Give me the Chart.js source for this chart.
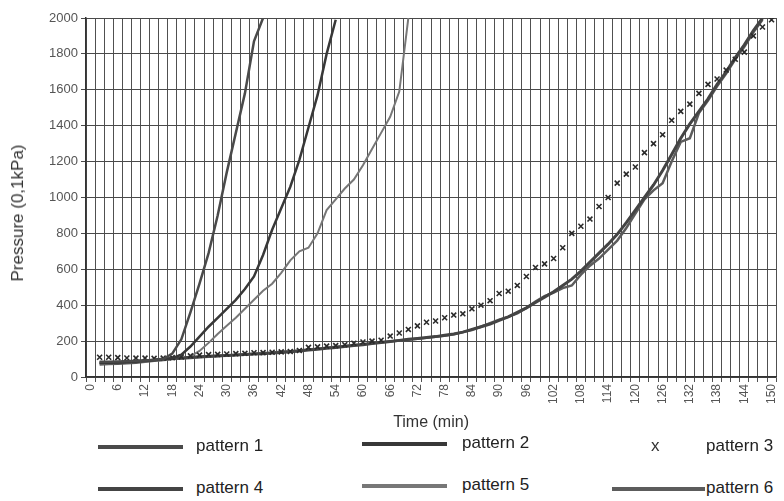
<!DOCTYPE html>
<html><head><meta charset="utf-8">
<script src="https://cdn.jsdelivr.net/npm/chart.js@4.4.0/dist/chart.umd.min.js"></script>
<style>
html,body{margin:0;padding:0;background:#fff;overflow:hidden;width:784px;height:501px;position:relative;}
#wrap{position:absolute;left:0;top:0;width:788px;height:436px;}
.lg{position:absolute;font:17px "Liberation Sans",Arial,sans-serif;color:#222;line-height:20px;white-space:nowrap;}
.sw{position:absolute;height:4px;}
#ytitle{position:absolute;left:18px;top:213px;font:17px "Liberation Sans",Arial,sans-serif;color:#333;white-space:nowrap;transform:translate(-50%,-50%) rotate(-90deg);line-height:20px;}
</style></head><body>
<div id="wrap"><canvas id="c" width="788" height="436"></canvas></div>
<div id="ytitle"></div>
<div id="legend"></div>
<script>
// Time categories (min)
const times = [0,2,4,6,8,10,12,14,16,18,20,22,24,26,28,30,32,34,36,38,40,42,44,46,48,50,52,54,56,58,60,62,64,66,68,70,72,74,76,78,80,82,84,86,88,90,92,94,96,98,100,102,104,106,108,110,112,114,116,118,120,122,124,126,128,130,132,134,136,138,140,142,144,146,148,150];

const seriesNames = ["pattern 1","pattern 2","pattern 3","pattern 4","pattern 5","pattern 6"];
const xTitle = "Time (min)";
const yTitle = "Pressure (0,1kPa)";

// Pressure (0,1kPa)
const pattern1 = [null,85,85,86,88,90,92,95,100,130,210,360,520,690,900,1140,1360,1580,1870,2000,
  null,null,null,null,null,null,null,null,null,null,null,null,null,null,null,null,null,null,null,null,
  null,null,null,null,null,null,null,null,null,null,null,null,null,null,null,null,null,null,null,null,
  null,null,null,null,null,null,null,null,null,null,null,null,null,null,null,null];
const pattern2 = [null,80,80,82,85,88,90,95,100,105,125,170,225,280,330,380,430,490,560,680,820,940,1060,1210,1390,1570,1800,1990,
  null,null,null,null,null,null,null,null,null,null,null,null,
  null,null,null,null,null,null,null,null,null,null,null,null,null,null,null,null,null,null,null,null,
  null,null,null,null,null,null,null,null,null,null,null,null,null,null,null,null];
const pattern3 = [null,110,110,108,106,105,105,104,105,108,112,118,122,125,126,128,130,132,135,136,138,140,142,148,165,168,172,175,180,188,195,200,205,228,245,265,285,305,312,330,345,352,380,400,425,465,478,510,560,610,630,660,720,800,840,880,950,1000,1080,1130,1170,1250,1300,1350,1430,1480,1520,1580,1630,1660,1710,1770,1810,1900,1950,1990];
const pattern4 = [null,80,80,80,82,85,90,95,100,103,106,110,113,115,118,120,122,125,128,130,133,136,140,145,150,155,160,165,170,175,180,186,192,198,204,210,215,220,225,232,240,250,265,280,295,315,335,360,385,415,445,475,510,545,590,640,690,740,795,860,930,1000,1070,1150,1240,1330,1410,1480,1550,1630,1700,1780,1850,1930,2000,null];
const pattern5 = [null,75,75,78,80,83,86,90,95,100,105,115,145,190,240,285,330,380,430,480,520,580,650,700,720,800,930,990,1050,1100,1180,1270,1360,1450,1590,2000,
  null,null,null,null,null,null,null,null,null,null,null,null,null,null,null,null,null,null,null,null,
  null,null,null,null,null,null,null,null,null,null,null,null,null,null,null,null,null,null,null,null];
const pattern6 = [null,70,72,74,76,80,85,90,95,100,103,106,110,113,116,120,123,126,130,133,136,140,143,148,153,158,163,168,173,178,183,188,193,198,203,208,213,218,224,230,238,250,262,280,300,320,335,355,385,420,450,470,495,510,570,620,660,710,760,830,910,990,1040,1080,1200,1310,1330,1470,1540,1620,1690,1770,1840,1920,1990,null];

const yTicks = {min:0, max:2000, step:200};

const FONT = '"Liberation Sans", Arial, sans-serif';
const lineDs = (label, data, color, w) => ({label, data, borderColor:color, backgroundColor:color, borderWidth:w, pointRadius:0, tension:0, spanGaps:false, fill:false, clip:0});

const chart = new Chart(document.getElementById('c'), {
  type:'line',
  data:{
    labels: times,
    datasets:[
      lineDs(seriesNames[0], pattern1, '#4a4a4a', 2.5),
      lineDs(seriesNames[1], pattern2, '#383838', 2.5),
      {label:seriesNames[2], data:pattern3, showLine:false, pointStyle:'crossRot', pointRadius:3.5, pointBorderWidth:1.6, borderColor:'#2a2a2a', pointBorderColor:'#2a2a2a', backgroundColor:'#2a2a2a', clip:0},
      lineDs(seriesNames[3], pattern4, '#444444', 3),
      lineDs(seriesNames[4], pattern5, '#777777', 2),
      lineDs(seriesNames[5], pattern6, '#5c5c5c', 2.5)
    ]
  },
  options:{
    responsive:false, animation:false, devicePixelRatio:1,
    layout:{padding:{left:0, top:18, right:2, bottom:0}},
    plugins:{legend:{display:false}, tooltip:{enabled:false}},
    scales:{
      x:{
        type:'category', offset:true,
        grid:{offset:true, color:'#505050', lineWidth:1, tickLength:5},
        border:{color:'#333', width:1.5},
        ticks:{autoSkip:false, maxRotation:90, minRotation:90, padding:2,
          font:{family:FONT, size:12}, color:'#555',
          callback:(v,i)=> times[i] % 6 === 0 ? String(times[i]) : ''},
        title:{display:true, text:xTitle, color:'#333', font:{family:FONT, size:16}, padding:{top:0,bottom:4}},
        afterFit:s=>{s.height = 59;}
      },
      y:{
        min:yTicks.min, max:yTicks.max,
        grid:{color:'#4a4a4a', lineWidth:1, tickLength:5},
        border:{color:'#333', width:1.5},
        ticks:{stepSize:yTicks.step, padding:3, font:{family:FONT, size:13}, color:'#555',
          callback:v=>String(v)},
        title:{display:false},
        afterFit:s=>{s.width = 86;}
      }
    }
  }
});

document.getElementById('ytitle').textContent = yTitle;

// HTML legend built from the chart's datasets
const legendPos = [
  {sx:98, sw:85, tx:196, y:447},
  {sx:362, sw:85, tx:462, y:444},
  {mx:655, tx:706, y:447},
  {sx:98, sw:85, tx:196, y:489},
  {sx:362, sw:85, tx:462, y:486},
  {sx:612, sw:93, tx:706, y:489}
];
const lg = document.getElementById('legend');
chart.data.datasets.forEach((ds,i)=>{
  const p = legendPos[i];
  if (p.mx !== undefined) {
    const m = document.createElement('div'); m.className='lg'; m.textContent='x';
    m.style.left = (p.mx-4)+'px'; m.style.top=(p.y-11)+'px'; m.style.color='#333';
    lg.appendChild(m);
  } else {
    const s = document.createElement('div'); s.className='sw';
    s.style.left=p.sx+'px'; s.style.width=p.sw+'px'; s.style.top=(p.y-2)+'px'; s.style.background=ds.borderColor;
    lg.appendChild(s);
  }
  const t = document.createElement('div'); t.className='lg'; t.textContent=ds.label;
  t.style.left=p.tx+'px'; t.style.top=(p.y-11)+'px';
  lg.appendChild(t);
});
</script>
</body></html>
